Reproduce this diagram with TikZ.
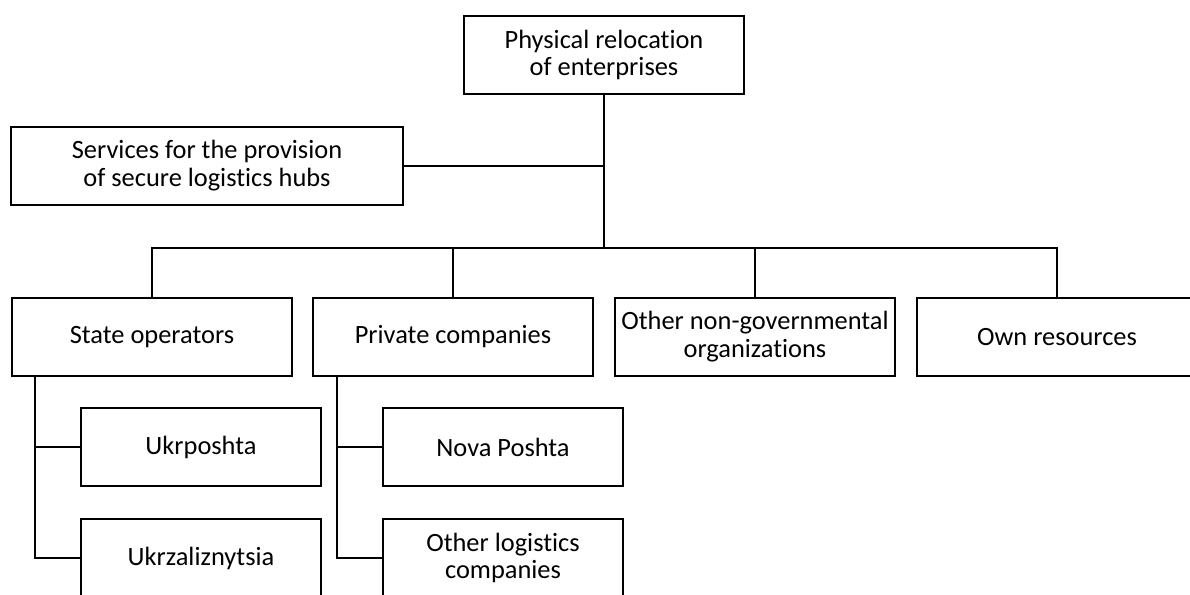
\documentclass[tikz,border=0pt]{standalone}
\usepackage{fontspec}
\setmainfont{Carlito}[Ligatures=NoCommon]
\usetikzlibrary{positioning}

\begin{document}
\begin{tikzpicture}[x=1bp,y=-1bp,
    box/.style={draw, line width=2pt, minimum width=280bp, minimum height=78bp,
      align=center, inner sep=2pt, font=\fontsize{26.5}{28}\selectfont},
    subbox/.style={box, minimum width=240bp},
    link/.style={line width=2.6pt}]
	\useasboundingbox (0,0) rectangle (1190,595);
	\clip (0,0) rectangle (1190,595);

	% root and side branch
	\node [box] (reloc) at (604,55) {Physical relocation\\of enterprises};
	\node [box, minimum width=392bp] (hubs) at (207,166) {Services for the provision\\of secure logistics hubs};

	% first level
	\node [box] (state) at (152,337) {State operators};
	\node [box] (private) at (453,337) {Private companies};
	\node [box] (ngo) at (755,337) {Other non-governmental\\organizations};
	\node [box] (own) at (1057,337) {Own resources};

	% second level
	\node [subbox] (ukrposhta) at (201,447) {Ukrposhta};
	\node [subbox] (ukrzal) at (201,558) {Ukrzaliznytsia};
	\node [subbox] (nova) at (503,447) {Nova Poshta};
	\node [subbox] (otherlog) at (503,558) {Other logistics\\companies};

	\coordinate (bus) at (604,248);
	\draw [link] (reloc) -- (bus);
	\draw [link] (hubs) -- (hubs -| reloc.south);
	\foreach \n in {state,private,ngo,own}
		\draw [link] (bus) -| (\n.north);

	\draw [link] ([xshift=24bp]state.south west) |- (ukrposhta.west);
	\draw [link] ([xshift=24bp]state.south west) |- (ukrzal.west);
	\draw [link] ([xshift=25bp]private.south west) |- (nova.west);
	\draw [link] ([xshift=25bp]private.south west) |- (otherlog.west);
\end{tikzpicture}
\end{document}
